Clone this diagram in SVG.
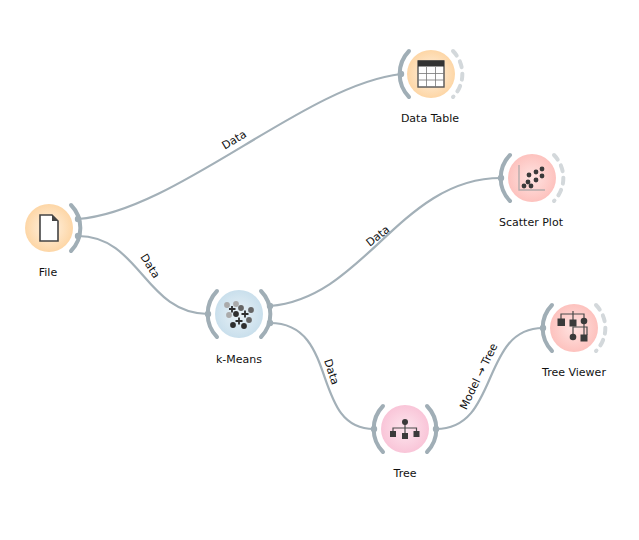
<svg xmlns="http://www.w3.org/2000/svg" width="639" height="540" viewBox="0 0 639 540">
<style>
.edge{fill:none;stroke:#a3b0b8;stroke-width:2.2}
.ch{fill:none;stroke:#a0aeb6;stroke-width:4;stroke-linecap:round}
.off{fill:none;stroke:#d3d8db;stroke-width:4;stroke-linecap:round;stroke-dasharray:6 6.5}
.dot{fill:#a0aeb6}
.lbl{font-family:"DejaVu Sans",sans-serif;font-size:11px;text-anchor:middle;fill:#111}
.el{font-family:"DejaVu Sans",sans-serif;font-size:11px;text-anchor:middle;fill:#111}
.ic{fill:#3a3a3a}
</style>
<defs>
<radialGradient id="o"><stop offset="0" stop-color="#fff3e4"/><stop offset="1" stop-color="#fdd6a6"/></radialGradient>
<radialGradient id="r"><stop offset="0" stop-color="#ffe4e2"/><stop offset="1" stop-color="#fdc2be"/></radialGradient>
<radialGradient id="b"><stop offset="0" stop-color="#e9f2f7"/><stop offset="1" stop-color="#c9dfec"/></radialGradient>
<radialGradient id="p"><stop offset="0" stop-color="#fde6ee"/><stop offset="1" stop-color="#f9c5d8"/></radialGradient>
</defs>
<g id="connectors">
<path class="edge" d="M78,219 C175,212 305,85 401,74"/>
<path class="edge" d="M78,236 C140,236 145,314 208,314"/>
<path class="edge" d="M270,306 C365,298 400,178 501,178"/>
<path class="edge" d="M270,323 C340,323 310,429 374,429"/>
<path class="edge" d="M436,429 C500,429 480,328 543,328"/>
<text class="el" transform="translate(236,143) rotate(-31)">Data</text>
<text class="el" transform="translate(147,268) rotate(58)">Data</text>
<text class="el" transform="translate(380,239) rotate(-38)">Data</text>
<text class="el" transform="translate(328,373) rotate(72)">Data</text>
<text class="el" transform="translate(482,378) rotate(-64)">Model → Tree</text>
</g>
<g id="file">
<circle cx="49" cy="228" r="24" fill="url(#o)"/>
<path d="M40,215 H52 L58,221 V241 H40 Z" fill="#fff" stroke="#444" stroke-width="1.6"/>
<path d="M52,215 V221 H58 Z" fill="#444"/>
<path class="ch" d="M71,205 A33,33 0 0 1 71,251"/>
<circle class="dot" cx="78" cy="219" r="3.2"/><circle class="dot" cx="78" cy="236" r="3.2"/>
<text class="lbl" x="48" y="276">File</text>
</g>
<g id="data-table">
<circle cx="431" cy="74" r="24" fill="url(#o)"/>
<rect x="418" y="61" width="26" height="26" fill="#fff" stroke="#555" stroke-width="1.4"/>
<rect x="418" y="60.500" width="26" height="6" fill="#333"/>
<path fill="none" stroke="#777" stroke-width="0.8" d="M426.500,67 V87 M435.500,67 V87 M418,73.500 H444 M418,80 H444"/>
<path class="ch" d="M409,51 A33,33 0 0 0 409,97"/>
<circle class="dot" cx="401" cy="74" r="3.2"/>
<path class="off" d="M453,51 A33,33 0 0 1 453,97"/>
<text class="lbl" x="430" y="122">Data Table</text>
</g>
<g id="scatter-plot">
<circle cx="532" cy="178" r="24" fill="url(#r)"/>
<path fill="none" stroke="#b5abab" stroke-width="1.4" d="M519,165 V190 H545"/>
<g class="ic"><circle cx="524" cy="186" r="2.400"/><circle cx="528" cy="182" r="2.400"/><circle cx="531" cy="186" r="2.400"/><circle cx="529" cy="175" r="2.400"/><circle cx="536" cy="180" r="2.400"/><circle cx="536" cy="172" r="2.400"/><circle cx="542" cy="176" r="2.400"/><circle cx="542" cy="169" r="2.400"/></g>
<path class="ch" d="M510,155 A33,33 0 0 0 510,201"/>
<circle class="dot" cx="501" cy="178" r="3.2"/>
<path class="off" d="M554,155 A33,33 0 0 1 554,201"/>
<text class="lbl" x="531" y="226">Scatter Plot</text>
</g>
<g id="k-means">
<circle cx="239" cy="314" r="24" fill="url(#b)"/>
<circle cx="227" cy="305" r="2.900" fill="#aaa"/><circle cx="236" cy="304" r="2.900" fill="#aaa"/><circle cx="229" cy="315" r="2.900" fill="#aaa"/>
<circle cx="241" cy="308" r="2.900" fill="#666"/><circle cx="251" cy="310" r="2.900" fill="#666"/><circle cx="249" cy="320" r="2.900" fill="#666"/>
<circle cx="236" cy="314" r="2.900" fill="#2e2e2e"/><circle cx="233" cy="325" r="2.900" fill="#2e2e2e"/><circle cx="244" cy="326" r="2.900" fill="#2e2e2e"/>
<path fill="none" stroke="#2e2e2e" stroke-width="1.800" d="M229,309 H235.500 M232,306 V312.500 M241.500,314 H248.500 M245,310.500 V317.500 M235.500,321 H242.500 M239,317.500 V324.500"/>
<path class="ch" d="M217,291 A33,33 0 0 0 217,337"/>
<circle class="dot" cx="208" cy="314" r="3.2"/>
<path class="ch" d="M261,291 A33,33 0 0 1 261,337"/>
<circle class="dot" cx="270" cy="306" r="3.2"/><circle class="dot" cx="270" cy="323" r="3.2"/>
<text class="lbl" x="239" y="363">k-Means</text>
</g>
<g id="tree">
<circle cx="405" cy="429" r="24" fill="url(#p)"/>
<path fill="none" stroke="#4a4a4a" stroke-width="1.2" d="M405,422 V433 M393,431 V428 H416.500 V431"/>
<circle class="ic" cx="405" cy="422" r="3"/>
<rect class="ic" x="390" y="431" width="6" height="6"/><rect class="ic" x="402" y="433" width="6" height="6"/><rect class="ic" x="413.500" y="431" width="6" height="6"/>
<path class="ch" d="M383,406 A33,33 0 0 0 383,452"/>
<circle class="dot" cx="374" cy="429" r="3.2"/>
<path class="ch" d="M427,406 A33,33 0 0 1 427,452"/>
<circle class="dot" cx="436" cy="429" r="3.2"/>
<text class="lbl" x="405" y="477">Tree</text>
</g>
<g id="tree-viewer">
<circle cx="574" cy="328" r="24" fill="url(#r)"/>
<path fill="none" stroke="#4a4a4a" stroke-width="1.2" d="M561,319 V314 H584 V319 M573,311 V320 M573,334 V327 H587 V335 M584,324 V335"/>
<rect class="ic" x="557.500" y="318.500" width="7.500" height="7.500"/><rect class="ic" x="569.500" y="319.500" width="7" height="7"/>
<circle class="ic" cx="584" cy="321" r="3.300"/><circle class="ic" cx="573" cy="337" r="3.300"/>
<rect class="ic" x="580.500" y="334.500" width="7" height="7"/>
<path class="ch" d="M552,305 A33,33 0 0 0 552,351"/>
<circle class="dot" cx="543" cy="328" r="3.2"/>
<path class="off" d="M596,305 A33,33 0 0 1 596,351"/>
<text class="lbl" x="574" y="376">Tree Viewer</text>
</g>
</svg>
